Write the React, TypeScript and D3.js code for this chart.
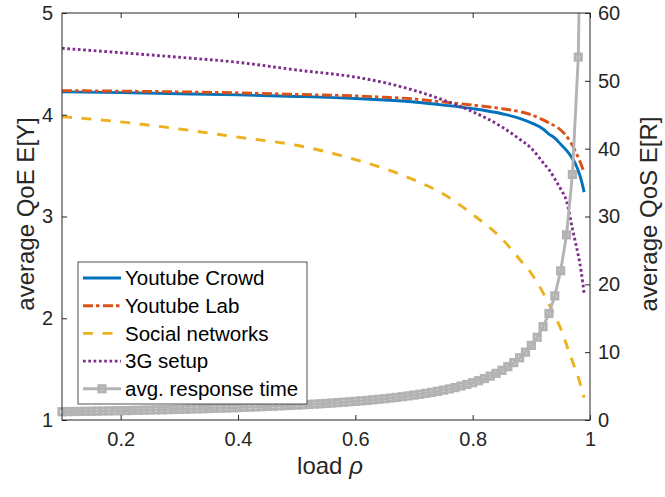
import { useRef, useEffect } from "react";
import * as d3 from "d3";

const rho = [
  0.1, 0.2, 0.3, 0.4, 0.5, 0.6, 0.65, 0.7, 0.75, 0.8, 0.85, 0.88, 0.9, 0.92,
  0.93, 0.94, 0.95, 0.96, 0.97, 0.975, 0.98, 0.985, 0.99,
];
const youtubeCrowd = [
  4.225, 4.217, 4.207, 4.195, 4.18, 4.16, 4.145, 4.125, 4.095, 4.06, 4.01,
  3.965, 3.92, 3.86, 3.81, 3.77, 3.71, 3.65, 3.57, 3.52, 3.45, 3.36, 3.24,
];
const youtubeLab = [
  4.237, 4.232, 4.225, 4.215, 4.2, 4.185, 4.172, 4.155, 4.125, 4.095, 4.06,
  4.03, 4.0, 3.95, 3.92, 3.89, 3.85, 3.79, 3.7, 3.64, 3.58, 3.51, 3.43,
];
const socialNetworks = [
  3.98, 3.93, 3.86, 3.78, 3.7, 3.56, 3.47, 3.36, 3.22, 3.02, 2.78, 2.58, 2.44,
  2.25, 2.14, 2.02, 1.9, 1.74, 1.58, 1.5, 1.42, 1.32, 1.22,
];
const setup3G = [
  4.653, 4.61, 4.565, 4.515, 4.44, 4.37, 4.315, 4.24, 4.145, 4.03, 3.88, 3.76,
  3.67, 3.53, 3.46, 3.37, 3.27, 3.15, 2.88, 2.75, 2.62, 2.46, 2.24,
];

// response time samples (one marker each)
const rhoR = [
  0.1, 0.11, 0.12, 0.13, 0.14, 0.15, 0.16, 0.17, 0.18, 0.19, 0.2, 0.21, 0.22,
  0.23, 0.24, 0.25, 0.26, 0.27, 0.28, 0.29, 0.3, 0.31, 0.32, 0.33, 0.34, 0.35,
  0.36, 0.37, 0.38, 0.39, 0.4, 0.41, 0.42, 0.43, 0.44, 0.45, 0.46, 0.47, 0.48,
  0.49, 0.5, 0.51, 0.52, 0.53, 0.54, 0.55, 0.56, 0.57, 0.58, 0.59, 0.6, 0.61,
  0.62, 0.63, 0.64, 0.65, 0.66, 0.67, 0.68, 0.69, 0.7, 0.71, 0.72, 0.73, 0.74,
  0.75, 0.76, 0.77, 0.78, 0.79, 0.8, 0.81, 0.82, 0.83, 0.84, 0.85, 0.86, 0.87,
  0.88, 0.89, 0.9, 0.91, 0.92, 0.93, 0.94, 0.95, 0.96, 0.97, 0.98, 0.99,
];
const respTime = [
  1.22, 1.24, 1.25, 1.26, 1.28, 1.29, 1.31, 1.33, 1.34, 1.36, 1.38, 1.39, 1.41,
  1.43, 1.45, 1.47, 1.49, 1.51, 1.53, 1.55, 1.57, 1.59, 1.62, 1.64, 1.67, 1.69,
  1.72, 1.75, 1.77, 1.8, 1.83, 1.86, 1.9, 1.93, 1.96, 2.0, 2.04, 2.08, 2.12,
  2.16, 2.2, 2.24, 2.29, 2.34, 2.39, 2.44, 2.5, 2.56, 2.62, 2.68, 2.75, 2.82,
  2.89, 2.97, 3.06, 3.14, 3.24, 3.33, 3.44, 3.55, 3.67, 3.79, 3.93, 4.07, 4.23,
  4.4, 4.58, 4.78, 5.0, 5.24, 5.5, 5.79, 6.11, 6.47, 6.88, 7.33, 7.86, 8.46,
  9.17, 10.0, 11.0, 12.2, 13.75, 15.7, 18.3, 22.0, 27.3, 36.2, 53.5, 108,
];

const xTicks = [0.2, 0.4, 0.6, 0.8, 1];
const qoeTicks = [1, 2, 3, 4, 5];
const qosTicks = [0, 10, 20, 30, 40, 50, 60];

const seriesNames = [
  "Youtube Crowd",
  "Youtube Lab",
  "Social networks",
  "3G setup",
  "avg. response time",
];

export default function App() {
  const svgRef = useRef(null);

  useEffect(() => {
    const w = 665;
    const h = 497;
    const left = 62,
      right = 590,
      top = 13,
      bottom = 420;
    const font = "'Liberation Sans', Arial, Helvetica, sans-serif";
    const ink = "#262626";
    const gray = "#b3b3b3";
    const lw = 2.9;

    const svg = d3.select(svgRef.current).attr("width", w).attr("height", h);
    svg.selectAll("*").remove();
    svg.append("rect").attr("width", w).attr("height", h).attr("fill", "#fff");

    const x = d3.scaleLinear().domain([0.1, 1]).range([left, right]);
    const yL = d3.scaleLinear().domain([1, 5]).range([bottom, top]);
    const yR = d3.scaleLinear().domain([0, 60]).range([bottom, top]);

    svg
      .append("clipPath")
      .attr("id", "plotclip")
      .append("rect")
      .attr("x", left)
      .attr("y", top)
      .attr("width", right - left)
      .attr("height", bottom - top);

    // QoE curves (left axis)
    const qoeSeries = [
      { vals: youtubeCrowd, color: "#0072BD", dash: null },
      { vals: youtubeLab, color: "#D95319", dash: "10,3,3.5,3.5" },
      { vals: socialNetworks, color: "#EDB120", dash: "10,9.5" },
      { vals: setup3G, color: "#7E2F8E", dash: "2.7,2.6" },
    ];
    const lineL = d3
      .line()
      .x((d) => x(d[0]))
      .y((d) => yL(d[1]))
      .curve(d3.curveMonotoneX);

    const plot = svg.append("g").attr("clip-path", "url(#plotclip)");
    qoeSeries.forEach((s) => {
      plot
        .append("path")
        .datum(rho.map((r, i) => [r, s.vals[i]]))
        .attr("d", lineL)
        .attr("fill", "none")
        .attr("stroke", s.color)
        .attr("stroke-width", lw)
        .attr("stroke-dasharray", s.dash);
    });

    // response time (right axis)
    const lineR = d3
      .line()
      .x((d) => x(d[0]))
      .y((d) => yR(d[1]));
    const rData = rhoR.map((r, i) => [r, respTime[i]]);
    plot
      .append("path")
      .datum(rData)
      .attr("d", lineR)
      .attr("fill", "none")
      .attr("stroke", gray)
      .attr("stroke-width", lw);
    const ms = 6.2;
    svg
      .append("g")
      .selectAll("rect")
      .data(rData.filter((d) => d[1] <= 60))
      .join("rect")
      .attr("x", (d) => x(d[0]) - ms / 2)
      .attr("y", (d) => yR(d[1]) - ms / 2)
      .attr("width", ms)
      .attr("height", ms)
      .attr("fill", "none")
      .attr("stroke", gray)
      .attr("stroke-width", 3);

    // frame
    svg
      .append("rect")
      .attr("x", left)
      .attr("y", top)
      .attr("width", right - left)
      .attr("height", bottom - top)
      .attr("fill", "none")
      .attr("stroke", ink)
      .attr("stroke-width", 1);

    // axes, ticks pointing inward
    const styleAxis = (g) => {
      g.select(".domain").remove();
      g.selectAll("line").attr("stroke", ink);
      g.selectAll("text")
        .attr("fill", ink)
        .style("font-family", font)
        .style("font-size", "20px");
    };
    svg
      .append("g")
      .attr("transform", `translate(0,${bottom})`)
      .call(
        d3
          .axisBottom(x)
          .tickValues(xTicks)
          .tickSize(-5)
          .tickPadding(12)
          .tickFormat((d) => String(d))
      )
      .call(styleAxis);
    svg
      .append("g")
      .attr("transform", `translate(0,${top})`)
      .call(d3.axisTop(x).tickValues(xTicks).tickSize(-5).tickFormat(() => ""))
      .call(styleAxis);
    svg
      .append("g")
      .attr("transform", `translate(${left},0)`)
      .call(
        d3
          .axisLeft(yL)
          .tickValues(qoeTicks)
          .tickSize(-5)
          .tickPadding(9)
          .tickFormat((d) => String(d))
      )
      .call(styleAxis);
    svg
      .append("g")
      .attr("transform", `translate(${right},0)`)
      .call(
        d3
          .axisRight(yR)
          .tickValues(qosTicks)
          .tickSize(-5)
          .tickPadding(8)
          .tickFormat((d) => String(d))
      )
      .call(styleAxis);

    // axis labels
    svg
      .append("text")
      .attr("transform", `translate(34,214) rotate(-90)`)
      .attr("text-anchor", "middle")
      .style("font-family", font)
      .style("font-size", "24px")
      .attr("fill", ink)
      .text("average QoE E[Y]");
    svg
      .append("text")
      .attr("transform", `translate(657,214) rotate(-90)`)
      .attr("text-anchor", "middle")
      .style("font-family", font)
      .style("font-size", "24px")
      .attr("fill", ink)
      .text("average QoS E[R]");
    const xl = svg
      .append("text")
      .attr("x", 330)
      .attr("y", 474)
      .attr("text-anchor", "middle")
      .style("font-family", font)
      .style("font-size", "24px")
      .attr("fill", ink);
    xl.append("tspan").text("load ");
    xl.append("tspan").attr("font-style", "italic").text("\u03C1");

    // legend
    const lg = svg.append("g");
    lg.append("rect")
      .attr("x", 78)
      .attr("y", 262)
      .attr("width", 229)
      .attr("height", 142)
      .attr("fill", "#fff")
      .attr("stroke", ink)
      .attr("stroke-width", 0.8);
    const legendStyles = [
      ...qoeSeries.map((s) => ({ color: s.color, dash: s.dash, marker: false })),
      { color: gray, dash: null, marker: true },
    ];
    seriesNames.forEach((name, i) => {
      const cy = 278 + i * 27.7;
      const st = legendStyles[i];
      lg.append("line")
        .attr("x1", 83)
        .attr("x2", 121)
        .attr("y1", cy)
        .attr("y2", cy)
        .attr("stroke", st.color)
        .attr("stroke-width", lw)
        .attr("stroke-dasharray", st.dash);
      if (st.marker) {
        lg.append("rect")
          .attr("x", 102 - ms / 2)
          .attr("y", cy - ms / 2)
          .attr("width", ms)
          .attr("height", ms)
          .attr("fill", "none")
          .attr("stroke", gray)
          .attr("stroke-width", 3);
      }
      lg.append("text")
        .attr("x", 125)
        .attr("y", cy)
        .attr("dy", "0.36em")
        .style("font-family", font)
        .style("font-size", "20.5px")
        .attr("fill", "#000")
        .text(name);
    });
  }, []);

  return (
    <div>
      <svg
        ref={svgRef}
        style={{ position: "absolute", left: 0, top: 0, display: "block" }}
      ></svg>
    </div>
  );
}
